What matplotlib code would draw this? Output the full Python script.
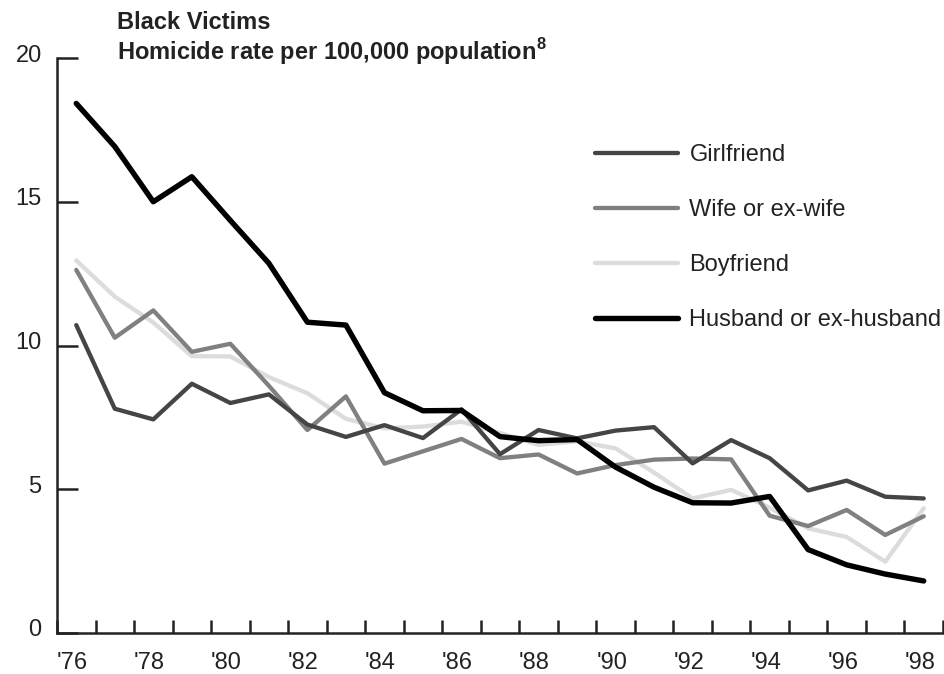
import matplotlib
matplotlib.use("Agg")
import matplotlib.pyplot as plt
from matplotlib.transforms import ScaledTranslation

# Homicide rate per 100,000 population, black victims, 1976-1998
years = list(range(1976, 1999))
year_labels = ["'76", "'78", "'80", "'82", "'84", "'86", "'88", "'90", "'92", "'94", "'96", "'98"]

girlfriend = [10.71, 7.80, 7.43, 8.67, 8.00, 8.30, 7.25, 6.82, 7.23, 6.78, 7.78, 6.22,
              7.06, 6.77, 7.04, 7.16, 5.90, 6.71, 6.08, 4.96, 5.30, 4.74, 4.68]
wife = [12.63, 10.27, 11.22, 9.78, 10.06, 8.60, 7.06, 8.23, 5.89, 6.32, 6.75, 6.08,
        6.21, 5.55, 5.84, 6.03, 6.07, 6.04, 4.08, 3.72, 4.28, 3.41, 4.06]
boyfriend = [12.96, 11.70, 10.80, 9.63, 9.62, 8.90, 8.34, 7.45, 7.12, 7.18, 7.35, 6.96,
             6.54, 6.67, 6.42, 5.58, 4.68, 4.98, 4.36, 3.64, 3.34, 2.48, 4.34]
husband = [18.42, 16.92, 15.00, 15.87, 14.35, 12.86, 10.81, 10.71, 8.36, 7.73, 7.74, 6.83,
           6.69, 6.73, 5.77, 5.07, 4.53, 4.52, 4.75, 2.90, 2.37, 2.05, 1.81]

series_names = ["Girlfriend", "Wife or ex-wife", "Boyfriend", "Husband or ex-husband"]

plt.rcParams['font.family'] = ['Liberation Sans', 'DejaVu Sans']
plt.rcParams['mathtext.fontset'] = 'custom'
plt.rcParams['mathtext.rm'] = 'Liberation Sans'
plt.rcParams['mathtext.bf'] = 'Liberation Sans:bold'

W, H = 944, 674
fig = plt.figure(figsize=(W / 100, H / 100), dpi=100)
ax = fig.add_axes([57 / W, (H - 633) / H, 886 / W, (633 - 58) / H])

txt = '#222222'
gray_lw = 3.1
line_handles = []
line_handles.append(ax.plot(years, boyfriend, color='#dcdcdc', lw=gray_lw, label=series_names[2],
                            solid_capstyle='round', zorder=2)[0])
line_handles.append(ax.plot(years, wife, color='#808080', lw=gray_lw, label=series_names[1],
                            solid_capstyle='round', zorder=3)[0])
line_handles.append(ax.plot(years, girlfriend, color='#454545', lw=gray_lw, label=series_names[0],
                            solid_capstyle='round', zorder=4)[0])
line_handles.append(ax.plot(years, husband, color='#000000', lw=3.9, label=series_names[3],
                            solid_capstyle='round', zorder=5)[0])

ax.set_xlim(1975.5, 1998.5)
ax.set_ylim(0, 20)

for s in ['top', 'right']:
    ax.spines[s].set_visible(False)
for s in ['left', 'bottom']:
    ax.spines[s].set_linewidth(1.8)
    ax.spines[s].set_color(txt)

# y ticks point inward
ax.set_yticks([0, 5, 10, 15, 20])
ax.tick_params(axis='y', direction='in', length=15, width=1.8, color=txt,
               labelsize=17, labelcolor=txt, pad=11)
for lab in ax.get_yticklabels():
    lab.set_transform(lab.get_transform() + ScaledTranslation(0, 0.05, fig.dpi_scale_trans))

# x: ticks between years, labels at even years
ax.set_xticks([y + 0.5 for y in range(1975, 1999)])
ax.set_xticklabels([])
ax.tick_params(axis='x', which='major', direction='in', length=9.5, width=1.8, color=txt)
ax.set_xticks(years[::2], minor=True)
ax.set_xticklabels(year_labels, minor=True)
ax.tick_params(axis='x', which='minor', length=0, labelsize=17, labelcolor=txt, pad=14)
for lab in ax.get_xticklabels(minor=True):
    lab.set_transform(lab.get_transform() + ScaledTranslation(-0.04, 0, fig.dpi_scale_trans))

fig.text(117 / W, 1 - 29 / H, "Black Victims", fontsize=17, fontweight='bold',
         color=txt, va='baseline', ha='left')
fig.text(117 / W, 1 - 60 / H, r"Homicide rate per 100,000 population$^\mathbf{8}$",
         fontsize=17, fontweight='bold', color=txt, va='baseline', ha='left')

order = [2, 1, 0, 3]
leg = ax.legend([line_handles[i] for i in order], [line_handles[i].get_label() for i in order],
                loc='upper left', bbox_to_anchor=(595 / W, 1 - 144 / H),
                bbox_transform=fig.transFigure, frameon=False, fontsize=17,
                handlelength=3.5, handletextpad=0.5, labelspacing=1.4,
                borderpad=0, borderaxespad=0)
for t in leg.get_texts():
    t.set_color(txt)

fig.savefig('out.png', dpi=100)
